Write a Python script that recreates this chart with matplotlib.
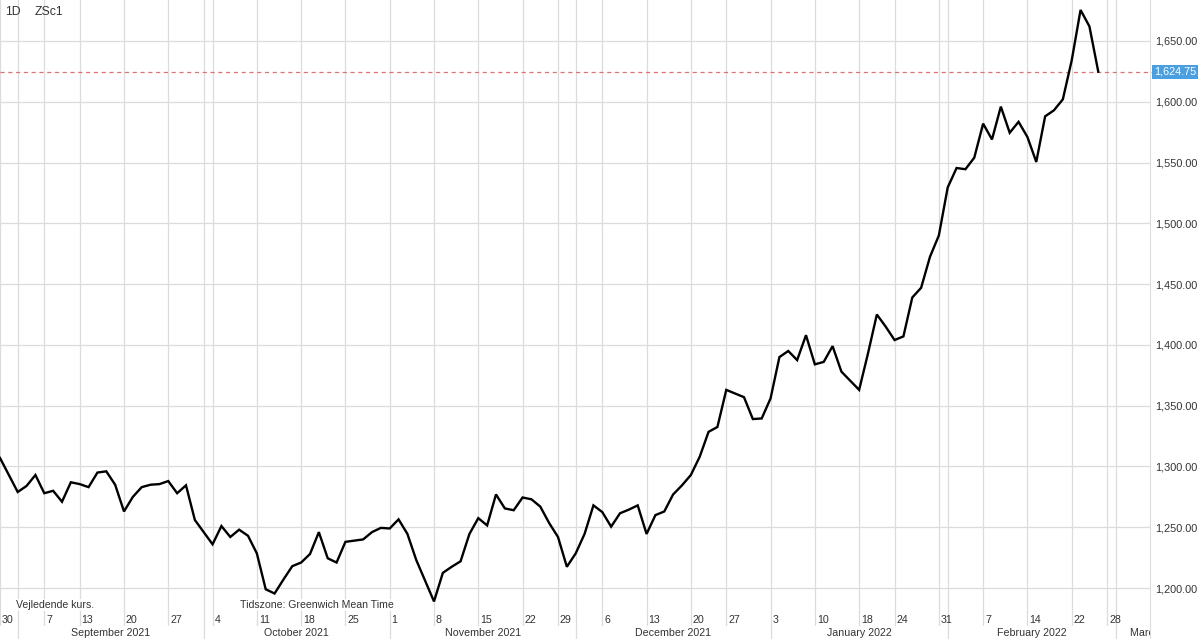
import numpy as np
import pandas as pd
import matplotlib
matplotlib.use('Agg')
import matplotlib.pyplot as plt
import matplotlib.transforms as mtransforms
from matplotlib.ticker import FuncFormatter

# daily close, ZSc1, 30 Aug 2021 - 25 Feb 2022 (trading days only)
closes = [
    1307, 1293, 1279, 1284, 1293, 1278, 1280, 1271, 1287, 1285.5,
    1283, 1295, 1296, 1285, 1263, 1275, 1283, 1285, 1285.5, 1288,
    1278, 1284.5, 1256, 1246, 1236, 1251, 1242, 1248, 1243, 1228.5,
    1199, 1195.5, 1207, 1218, 1221, 1228, 1246, 1224.5, 1221, 1238,
    1239, 1240, 1246, 1249.5, 1249, 1256.5, 1244.5, 1223, 1206, 1189,
    1212.5, 1217.5, 1222, 1244.5, 1257.5, 1251.5, 1277, 1265.5, 1264, 1274.5,
    1273, 1267, 1253.5, 1242, 1217.5, 1228.5, 1244.5, 1268, 1262.5, 1250.5,
    1261.5, 1264.5, 1268, 1244.5, 1260, 1263, 1277, 1284.5, 1293, 1308,
    1328.5, 1332.5, 1363, 1360, 1357, 1339, 1339.5, 1356, 1390, 1395,
    1387.5, 1408, 1384, 1386, 1399, 1378, 1370.5, 1363, 1393, 1425,
    1415, 1404, 1407, 1439, 1447, 1472.5, 1490, 1529.5, 1545.5, 1544.5,
    1554, 1582, 1569, 1596, 1574.5, 1583.5, 1571, 1550.5, 1588, 1593,
    1602, 1634, 1675.5, 1662, 1624.75,
]
last_price = 1624.75
holidays = ['2021-09-06', '2021-11-25', '2021-12-24', '2022-01-17', '2022-02-21']
week_ticks = [
    '2021-08-30', '2021-09-07', '2021-09-13', '2021-09-20', '2021-09-27',
    '2021-10-04', '2021-10-11', '2021-10-18', '2021-10-25',
    '2021-11-01', '2021-11-08', '2021-11-15', '2021-11-22', '2021-11-29',
    '2021-12-06', '2021-12-13', '2021-12-20', '2021-12-27',
    '2022-01-03', '2022-01-10', '2022-01-18', '2022-01-24', '2022-01-31',
    '2022-02-07', '2022-02-14', '2022-02-22', '2022-02-28',
]
month_names = ['September 2021', 'October 2021', 'November 2021', 'December 2021',
               'January 2022', 'February 2022', 'March 2022']

# trading calendar
days = pd.bdate_range('2021-08-30', '2022-03-10')
days = days[~days.isin(pd.to_datetime(holidays))]
pos = {d: i for i, d in enumerate(days)}
week_pos = [pos[pd.Timestamp(d)] for d in week_ticks]
firsts = pd.Series(range(len(days)), index=days).groupby(days.to_period('M')).first()
month_pos = list(firsts.values[1:len(month_names) + 1])

plt.rcParams['font.family'] = ['Liberation Sans', 'DejaVu Sans']
plt.rcParams['lines.scale_dashes'] = False

W, H = 1200, 639
plot_right, plot_bottom, date_bottom = 1150, 612, 626
grid_c = '#dcdcdc'
text_c = '#333333'
xmax = 129.84

fig = plt.figure(figsize=(12, 6.39), dpi=100)
ax = fig.add_axes([0, 1 - plot_bottom / H, plot_right / W, plot_bottom / H])
ax_d = fig.add_axes([0, 1 - date_bottom / H, plot_right / W, (date_bottom - plot_bottom) / H], sharex=ax)
ax_m = fig.add_axes([0, 0, plot_right / W, 1 - date_bottom / H], sharex=ax)

x = np.arange(len(closes))
ax.plot(x, closes, color='black', lw=1.7, zorder=4, solid_joinstyle='miter')
ax.set_xlim(0, xmax)
ax.set_ylim(1180.3, 1683.7)

# grid
ax.set_yticks(np.arange(1200, 1651, 50))
ax.grid(axis='y', color=grid_c, lw=0.9)
for p in sorted(set(week_pos + month_pos)):
    ax.axvline(p, color=grid_c, lw=0.9, zorder=1)
    ax_d.axvline(p, color=grid_c, lw=0.9)
for p in month_pos:
    ax_m.axvline(p, color=grid_c, lw=0.9)

# right axis
ax.yaxis.tick_right()
ax.yaxis.set_major_formatter(FuncFormatter(lambda v, _: f'{v:,.2f}'))
ax.tick_params(axis='y', length=0, pad=3.4, labelsize=7.8, labelcolor=text_c)
ax.tick_params(axis='x', bottom=False, labelbottom=False)
for s in ['left', 'top']:
    ax.spines[s].set_visible(False)
ax.spines['right'].set_color(grid_c)
ax.spines['bottom'].set_color(grid_c)

# last price line + label
ax.axhline(last_price, xmin=0, xmax=1153 / 1150, color='#dd7474', lw=0.9,
           dashes=(3.0, 2.6), clip_on=False, zorder=3)
trans = mtransforms.blended_transform_factory(ax.transAxes, ax.transData)
ax.text(1154 / 1150, last_price, f'{last_price:,.2f}', transform=trans, ha='left', va='center',
        fontsize=7.8, color='white',
        bbox=dict(boxstyle='square,pad=0.18', facecolor='#4a9fe0', edgecolor='none'))

# titles / notes
ax.text(5 / 1150, 1 - 12 / 612, '1D', transform=ax.transAxes, fontsize=8.8, color=text_c, va='center')
ax.text(35 / 1150, 1 - 12 / 612, 'ZSc1', transform=ax.transAxes, fontsize=8.8, color=text_c, va='center')
note_box = dict(boxstyle='square,pad=0.1', facecolor='white', edgecolor='none', alpha=0.85)
ax.text(16 / 1150, 1 - 605 / 612, 'Vejledende kurs.', transform=ax.transAxes,
        fontsize=7.6, color=text_c, va='center', bbox=note_box)
ax.text(240 / 1150, 1 - 605 / 612, 'Tidszone: Greenwich Mean Time', transform=ax.transAxes,
        fontsize=7.6, color=text_c, va='center', bbox=note_box)

# date row
d_trans = mtransforms.offset_copy(
    mtransforms.blended_transform_factory(ax_d.transData, ax_d.transAxes), fig=fig, x=2, units='dots')
for p, d in zip(week_pos, week_ticks):
    ax_d.text(p, 0.45, str(pd.Timestamp(d).day), transform=d_trans, ha='left', va='center',
              fontsize=7.7, color=text_c, clip_on=True)

# month row
edges = month_pos + [xmax * W / plot_right]
m_trans = mtransforms.blended_transform_factory(ax_m.transData, ax_m.transAxes)
for name, a, b in zip(month_names, edges[:-1], edges[1:]):
    ax_m.text((a + b) / 2, 0.5, name, transform=m_trans,
              ha='center', va='center', fontsize=7.7, color=text_c, clip_on=True)

for a in (ax_d, ax_m):
    a.set_yticks([])
    a.tick_params(axis='x', bottom=False, labelbottom=False)
    for s in ['left', 'top']:
        a.spines[s].set_visible(False)
    a.spines['right'].set_color(grid_c)
    a.spines['bottom'].set_color(grid_c)
ax_m.spines['bottom'].set_visible(False)

fig.savefig('out.png', dpi=100)
